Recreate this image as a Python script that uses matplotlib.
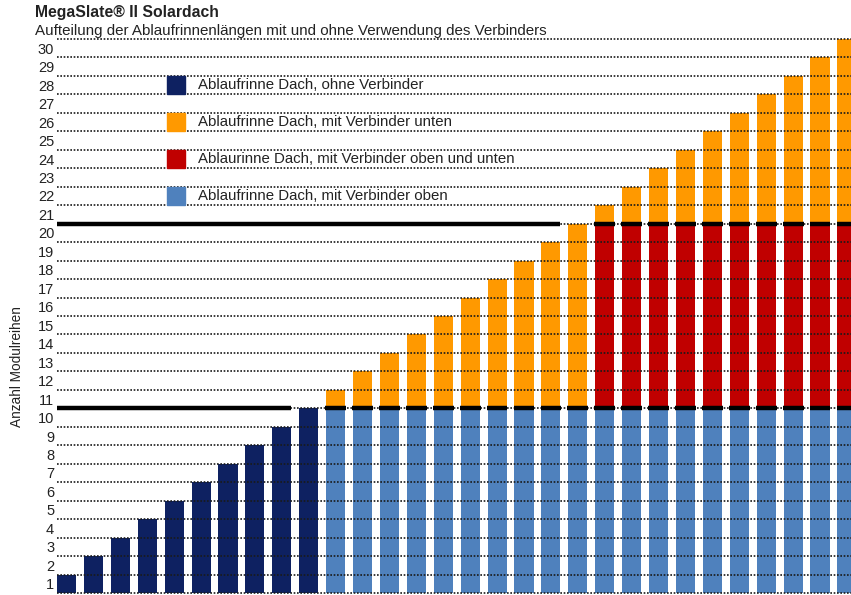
import numpy as np
import matplotlib.pyplot as plt
from matplotlib.patches import Rectangle

plt.rcParams['font.family'] = ['Liberation Sans', 'DejaVu Sans']

# data
rows = np.arange(1, 31)                      # Anzahl Modulreihen per bar
ohne = [1, 2, 3, 4, 5, 6, 7, 8, 9, 10] + [0] * 20
oben = [0] * 10 + [10] * 20
oben_unten = [0] * 20 + [10] * 10
unten = [0] * 10 + [1, 2, 3, 4, 5, 6, 7, 8, 9, 10] + [1, 2, 3, 4, 5, 6, 7, 8, 9, 10]
tick_labels = [str(i) for i in range(1, 31)]

legend_labels = ['Ablaufrinne Dach, ohne Verbinder',
                 'Ablaufrinne Dach, mit Verbinder unten',
                 'Ablaurinne Dach, mit Verbinder oben und unten',
                 'Ablaufrinne Dach, mit Verbinder oben']
c_navy = '#0e2161'
c_orange = '#ff9900'
c_red = '#c00000'
c_blue = '#4f81bd'
legend_colors = [c_navy, c_orange, c_red, c_blue]

fig = plt.figure(figsize=(8.51, 5.95), dpi=100)
ax = fig.add_axes([57 / 851, 2 / 595, 1 - 57 / 851, 554 / 595])

w = 0.71
ax.bar(rows, ohne, width=w, color=c_navy, zorder=2)
ax.bar(rows, oben, width=w, color=c_blue, zorder=2)
ax.bar(rows, oben_unten, width=w, bottom=oben, color=c_red, zorder=2)
bot = np.array(oben) + np.array(oben_unten)
ax.bar(rows, unten, width=w, bottom=bot, color=c_orange, zorder=2)

ax.set_xlim(1 - w / 2, 30.15)
ax.set_ylim(0, 30)

# dotted grid over the bars
ax.hlines(np.arange(0, 31), 1 - w / 2, 30.15, colors='#1a1a1a',
          linestyles=(0, (1, 1)), linewidth=1.2, zorder=3, clip_on=False)

# thick black separators
for level, first in [(10, 10), (20, 20)]:
    ax.hlines(level, 1 - w / 2, first - 1 + w / 2, colors='black',
              linewidth=3.2, zorder=4)
    stacked = rows[rows > level]
    ax.hlines([level] * len(stacked), stacked - w / 2 - 0.03, stacked + w / 2 + 0.03,
              colors='black', linewidth=3.2, zorder=4)

# legend inside the plot
for i, (lab, col) in enumerate(zip(legend_labels, legend_colors)):
    y0 = 27 - 2 * i
    ax.add_patch(Rectangle((4.72, y0), 0.67, 1, color=col, zorder=5))
    ax.text(5.87, y0 + 0.5, lab, va='center', ha='left', fontsize=10.8,
            color='#222222', zorder=5)

ax.set_yticks(rows - 0.5)
ax.set_yticklabels(tick_labels, fontsize=10.5, color='#222222')
ax.tick_params(axis='y', length=0, pad=2)
ax.set_xticks([])
for s in ax.spines.values():
    s.set_visible(False)

fig.text(17 / 851, 1 - 367 / 595, 'Anzahl Modulreihen', rotation=90,
         ha='center', va='center', fontsize=9.8, color='#222222')
fig.text(35 / 851, 1 - 12 / 595, 'MegaSlate® II Solardach', fontsize=11.3,
         fontweight='bold', ha='left', va='center', color='#222222')
fig.text(35 / 851, 1 - 31 / 595,
         'Aufteilung der Ablaufrinnenlängen mit und ohne Verwendung des Verbinders',
         fontsize=10.9, ha='left', va='center', color='#222222')

fig.savefig('out.png', dpi=100)
